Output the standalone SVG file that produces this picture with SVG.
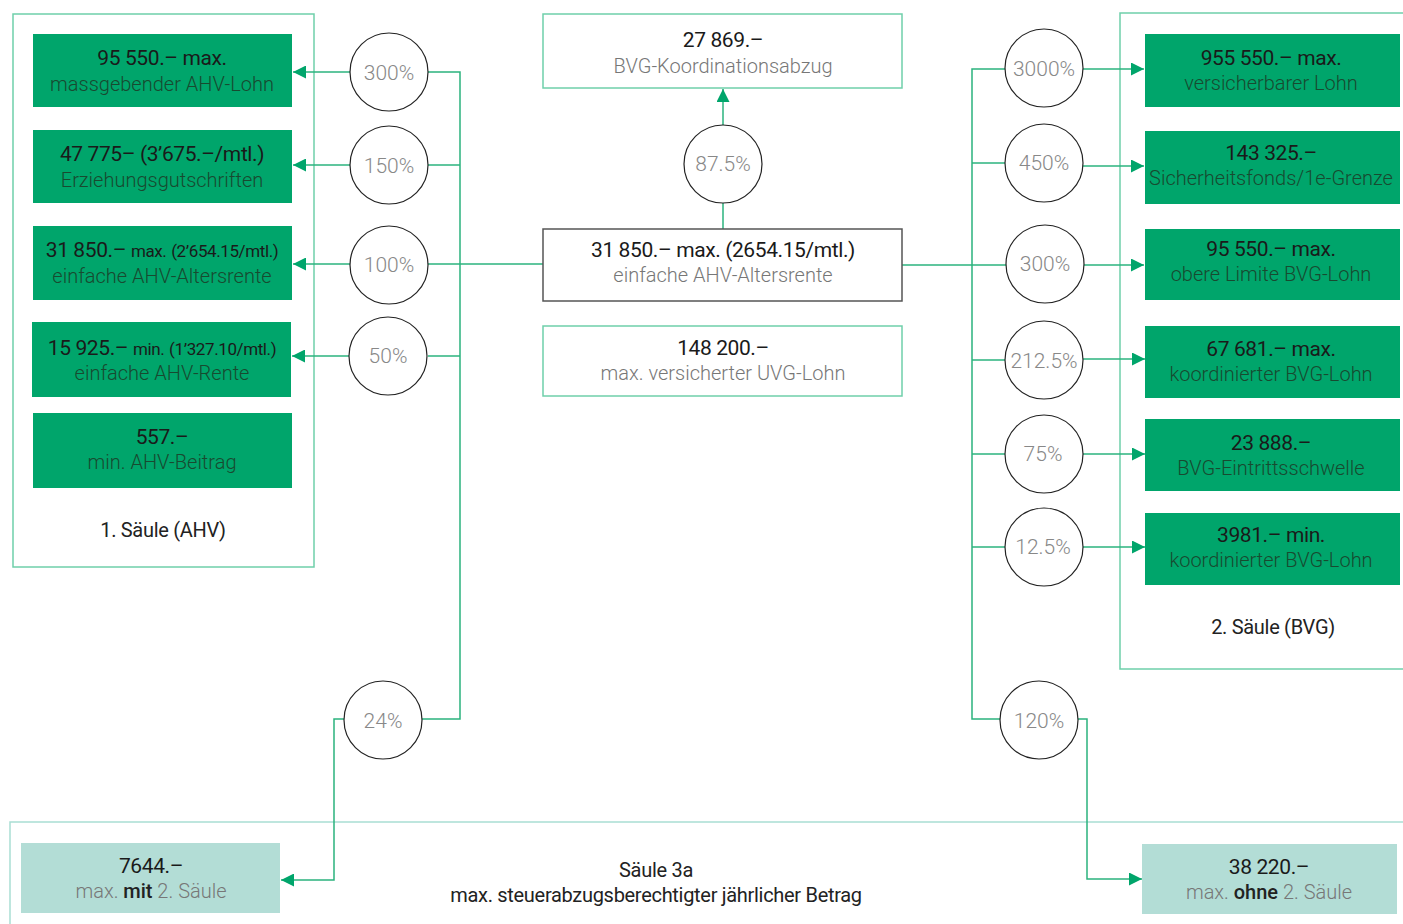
<svg xmlns="http://www.w3.org/2000/svg" width="1403" height="924" viewBox="0 0 1403 924">
<style>
text{font-family:Roboto,"Liberation Sans",sans-serif;text-anchor:middle}
.frame{fill:none;stroke:#6fcfaa;stroke-width:1.5}
.frame3{fill:none;stroke:#a9ded4;stroke-width:1.5}
.gbox{fill:#00a56b}
.tbox{fill:#b3ddd6}
.wbox{fill:#fff;stroke:#6fcfaa;stroke-width:1.5}
.dbox{fill:#fff;stroke:#555;stroke-width:1.5}
.circ{fill:#fff;stroke:#222;stroke-width:1.2}
.t1{font-size:21px;font-weight:400;fill:#1a1a1a;letter-spacing:-0.4px}
.t2g{font-size:20px;font-weight:300;fill:#184a30}
.t2w{font-size:20px;font-weight:300;fill:#777}
.pct{font-size:21px;font-weight:300;fill:#888}
.lbl{font-size:20px;font-weight:400;fill:#222;letter-spacing:-0.3px}
.sm{font-size:17px}
.b{font-weight:500;fill:#222}
.con{fill:none;stroke:#2bb37e;stroke-width:1.5}
</style>
<defs>
<marker id="ah" viewBox="0 0 10 10" refX="10" refY="5" markerWidth="13" markerHeight="13" markerUnits="userSpaceOnUse" orient="auto">
<path d="M0,0 L10,5 L0,10 z" fill="#00a56b"/>
</marker>
</defs>

<g id="frames">
<rect class="frame" x="13" y="14" width="301" height="553"/>
<path class="frame" d="M1403,13 H1120 V669 H1403"/>
<path class="frame3" d="M1403,822 H10 V924"/>
</g>

<g id="connectors">
<path class="con" d="M428,72 H460 V719 H422"/>
<path class="con" d="M428,165 H460"/>
<path class="con" d="M428,264 H543"/>
<path class="con" d="M428,356 H460"/>
<path class="con" d="M350,72 H293" marker-end="url(#ah)"/>
<path class="con" d="M350,165 H293" marker-end="url(#ah)"/>
<path class="con" d="M350,264 H293" marker-end="url(#ah)"/>
<path class="con" d="M349,356 H292" marker-end="url(#ah)"/>
<path class="con" d="M344,719 H334 V880 H281" marker-end="url(#ah)"/>
<path class="con" d="M723,229 V203"/>
<path class="con" d="M723,125 V89" marker-end="url(#ah)"/>
<path class="con" d="M902,265 H1006"/>
<path class="con" d="M1005,69 H972 V719 H1000"/>
<path class="con" d="M972,163 H1005"/>
<path class="con" d="M972,360 H1005"/>
<path class="con" d="M972,454 H1005"/>
<path class="con" d="M972,547 H1005"/>
<path class="con" d="M1083,69 H1144" marker-end="url(#ah)"/>
<path class="con" d="M1083,166 H1144" marker-end="url(#ah)"/>
<path class="con" d="M1084,265 H1144" marker-end="url(#ah)"/>
<path class="con" d="M1083,359 H1145" marker-end="url(#ah)"/>
<path class="con" d="M1083,454 H1145" marker-end="url(#ah)"/>
<path class="con" d="M1083,547 H1145" marker-end="url(#ah)"/>
<path class="con" d="M1078,719 H1087 V879 H1142" marker-end="url(#ah)"/>
</g>

<g id="n-ahv-lohn">
<rect class="gbox" x="33" y="34" width="259" height="73"/>
<text class="t1" x="162" y="65">95 550.– max.</text>
<text class="t2g" x="162" y="91">massgebender AHV-Lohn</text>
</g>
<g id="n-erziehung">
<rect class="gbox" x="33" y="130" width="259" height="73"/>
<text class="t1" x="162" y="161">47 775– (3’675.–/mtl.)</text>
<text class="t2g" x="162" y="187">Erziehungsgutschriften</text>
</g>
<g id="n-altersrente-l">
<rect class="gbox" x="33" y="226" width="259" height="74"/>
<text class="t1" x="162" y="257">31 850.– <tspan class="sm">max.</tspan> <tspan class="sm">(2’654.15/mtl.)</tspan></text>
<text class="t2g" x="162" y="283">einfache AHV-Altersrente</text>
</g>
<g id="n-rente-min">
<rect class="gbox" x="32" y="322" width="259" height="75"/>
<text class="t1" x="162" y="355">15 925.– <tspan class="sm">min.</tspan> <tspan class="sm">(1’327.10/mtl.)</tspan></text>
<text class="t2g" x="162" y="380">einfache AHV-Rente</text>
</g>
<g id="n-beitrag">
<rect class="gbox" x="33" y="413" width="259" height="75"/>
<text class="t1" x="162" y="444">557.–</text>
<text class="t2g" x="162" y="469">min. AHV-Beitrag</text>
</g>
<text class="lbl" x="163" y="537">1. Säule (AHV)</text>

<g id="c300l"><circle class="circ" cx="389" cy="72" r="39"/><text class="pct" x="389" y="80">300%</text></g>
<g id="c150"><circle class="circ" cx="389" cy="165" r="39"/><text class="pct" x="389" y="173">150%</text></g>
<g id="c100"><circle class="circ" cx="389" cy="265" r="39"/><text class="pct" x="389" y="272">100%</text></g>
<g id="c50"><circle class="circ" cx="388" cy="356" r="39"/><text class="pct" x="388" y="363">50%</text></g>
<g id="c24"><circle class="circ" cx="383" cy="720" r="39"/><text class="pct" x="383" y="728">24%</text></g>

<g id="n-koord">
<rect class="wbox" x="543" y="14" width="359" height="74"/>
<text class="t1" x="723" y="47">27 869.–</text>
<text class="t2w" x="723" y="73">BVG-Koordinationsabzug</text>
</g>
<g id="c875"><circle class="circ" cx="723" cy="164" r="39"/><text class="pct" x="723" y="171">87.5%</text></g>
<g id="n-center">
<rect class="dbox" x="543" y="229" width="359" height="72"/>
<text class="t1" x="723" y="257">31 850.– max. (2654.15/mtl.)</text>
<text class="t2w" x="723" y="282">einfache AHV-Altersrente</text>
</g>
<g id="n-uvg">
<rect class="wbox" x="543" y="326" width="359" height="70"/>
<text class="t1" x="723" y="355">148 200.–</text>
<text class="t2w" x="723" y="380">max. versicherter UVG-Lohn</text>
</g>

<g id="c3000"><circle class="circ" cx="1044" cy="68" r="39"/><text class="pct" x="1044" y="76">3000%</text></g>
<g id="c450"><circle class="circ" cx="1044" cy="163" r="39"/><text class="pct" x="1044" y="170">450%</text></g>
<g id="c300r"><circle class="circ" cx="1045" cy="264" r="39"/><text class="pct" x="1045" y="271">300%</text></g>
<g id="c2125"><circle class="circ" cx="1044" cy="360" r="39"/><text class="pct" x="1044" y="368">212.5%</text></g>
<g id="c75"><circle class="circ" cx="1044" cy="454" r="39"/><text class="pct" x="1043" y="461">75%</text></g>
<g id="c125"><circle class="circ" cx="1044" cy="547" r="39"/><text class="pct" x="1043" y="554">12.5%</text></g>
<g id="c120"><circle class="circ" cx="1039" cy="720" r="39"/><text class="pct" x="1039" y="728">120%</text></g>

<g id="n-versicherbar">
<rect class="gbox" x="1145" y="34" width="255" height="73"/>
<text class="t1" x="1271" y="65">955 550.– max.</text>
<text class="t2g" x="1271" y="90">versicherbarer Lohn</text>
</g>
<g id="n-sicherheit">
<rect class="gbox" x="1145" y="131" width="255" height="73"/>
<text class="t1" x="1271" y="160">143 325.–</text>
<text class="t2g" x="1271" y="185">Sicherheitsfonds/1e-Grenze</text>
</g>
<g id="n-obere">
<rect class="gbox" x="1145" y="229" width="255" height="71"/>
<text class="t1" x="1271" y="256">95 550.– max.</text>
<text class="t2g" x="1271" y="281">obere Limite BVG-Lohn</text>
</g>
<g id="n-koord-max">
<rect class="gbox" x="1145" y="326" width="255" height="72"/>
<text class="t1" x="1271" y="356">67 681.– max.</text>
<text class="t2g" x="1271" y="381">koordinierter BVG-Lohn</text>
</g>
<g id="n-eintritt">
<rect class="gbox" x="1145" y="419" width="255" height="72"/>
<text class="t1" x="1271" y="450">23 888.–</text>
<text class="t2g" x="1271" y="475">BVG-Eintrittsschwelle</text>
</g>
<g id="n-koord-min">
<rect class="gbox" x="1145" y="513" width="255" height="72"/>
<text class="t1" x="1271" y="542">3981.– min.</text>
<text class="t2g" x="1271" y="567">koordinierter BVG-Lohn</text>
</g>
<text class="lbl" x="1273" y="634">2. Säule (BVG)</text>

<g id="n-mit">
<rect class="tbox" x="21" y="843" width="259" height="70"/>
<text class="t1" x="151" y="873">7644.–</text>
<text class="t2w" x="151" y="898">max. <tspan class="b">mit</tspan> 2. Säule</text>
</g>
<g id="n-ohne">
<rect class="tbox" x="1142" y="844" width="255" height="70"/>
<text class="t1" x="1269" y="874">38 220.–</text>
<text class="t2w" x="1269" y="899">max. <tspan class="b">ohne</tspan> 2. Säule</text>
</g>
<text class="lbl" x="656" y="877">Säule 3a</text>
<text class="lbl" x="656" y="902">max. steuerabzugsberechtigter jährlicher Betrag</text>
</svg>
